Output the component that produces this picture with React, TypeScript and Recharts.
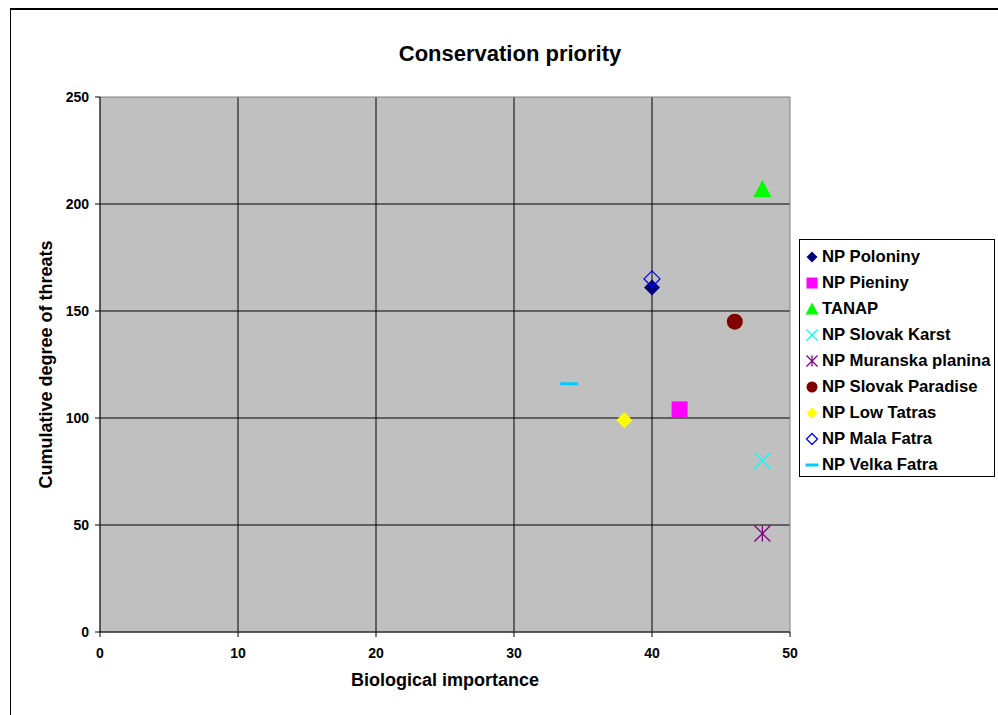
import React from 'react';
import {
  ScatterChart,
  Scatter,
  XAxis,
  YAxis,
  CartesianGrid,
  ReferenceArea,
} from 'recharts';

// parks
const parkNames = [
  'NP Poloniny',
  'NP Pieniny',
  'TANAP',
  'NP Slovak Karst',
  'NP Muranska planina',
  'NP Slovak Paradise',
  'NP Low Tatras',
  'NP Mala Fatra',
  'NP Velka Fatra',
];
const biologicalImportance = [40, 42, 48, 48, 48, 46, 38, 40, 34];
const threatDegree = [161, 104, 207, 80, 46, 145, 99, 165, 116];
const markerKinds = ['diamond', 'square', 'triangle', 'x', 'star', 'circle', 'diamond', 'openDiamond', 'dash'];
const markerColors = ['#000080', '#FF00FF', '#00FF00', '#00FFFF', '#800080', '#800000', '#FFFF00', '#0000FF', '#00CCFF'];

const xTicks = [0, 10, 20, 30, 40, 50];
const yTicks = [0, 50, 100, 150, 200, 250];

const FONT = '"Liberation Sans", Arial, Helvetica, sans-serif';

function Marker({ kind, color, cx, cy, s = 8 }: { kind: string; color: string; cx: number; cy: number; s?: number }) {
  switch (kind) {
    case 'diamond':
      return <polygon points={`${cx},${cy - s} ${cx + s},${cy} ${cx},${cy + s} ${cx - s},${cy}`} fill={color} />;
    case 'openDiamond':
      return (
        <polygon
          points={`${cx},${cy - s} ${cx + s},${cy} ${cx},${cy + s} ${cx - s},${cy}`}
          fill="none"
          stroke={color}
          strokeWidth={1.3}
        />
      );
    case 'square':
      return <rect x={cx - s} y={cy - s} width={2 * s} height={2 * s} fill={color} />;
    case 'triangle':
      return <polygon points={`${cx},${cy - s - 1} ${cx + s + 1},${cy + s} ${cx - s - 1},${cy + s}`} fill={color} />;
    case 'circle':
      return <circle cx={cx} cy={cy} r={s} fill={color} />;
    case 'x':
      return (
        <g stroke={color} strokeWidth={1.3}>
          <line x1={cx - s} y1={cy - s} x2={cx + s} y2={cy + s} />
          <line x1={cx - s} y1={cy + s} x2={cx + s} y2={cy - s} />
        </g>
      );
    case 'star':
      return (
        <g stroke={color} strokeWidth={1.3}>
          <line x1={cx - s} y1={cy - s} x2={cx + s} y2={cy + s} />
          <line x1={cx - s} y1={cy + s} x2={cx + s} y2={cy - s} />
          <line x1={cx} y1={cy - s} x2={cx} y2={cy + s} />
        </g>
      );
    case 'dash':
      return <line x1={cx - s - 1} y1={cy} x2={cx + s + 1} y2={cy} stroke={color} strokeWidth={3} />;
    default:
      return null;
  }
}

const YTitle = (props: any) => {
  const { x, y, height } = props.viewBox;
  const cx = x + 6;
  const cy = y + height / 2;
  return (
    <text
      x={cx}
      y={cy}
      transform={`rotate(-90, ${cx}, ${cy})`}
      textAnchor="middle"
      dominantBaseline="central"
      fontFamily={FONT}
      fontWeight="bold"
      fontSize={18}
      fill="#000"
    >
      Cumulative degree of threats
    </text>
  );
};

const XTitle = (props: any) => {
  const { x, y, width } = props.viewBox;
  return (
    <text
      x={x + width / 2}
      y={y + 48}
      textAnchor="middle"
      dominantBaseline="central"
      fontFamily={FONT}
      fontWeight="bold"
      fontSize={18}
      fill="#000"
    >
      Biological importance
    </text>
  );
};

function ParkLegend() {
  return (
    <div
      style={{
        position: 'absolute',
        left: 799,
        top: 239,
        width: 196,
        height: 238,
        border: '1px solid #000',
        background: '#fff',
        boxSizing: 'border-box',
        paddingTop: 4,
      }}
    >
      {parkNames.map((name, i) => (
        <div key={name} style={{ display: 'flex', alignItems: 'center', height: 26 }}>
          <svg width={22} height={16} style={{ flex: 'none' }}>
            <Marker kind={markerKinds[i]} color={markerColors[i]} cx={12} cy={8} s={5.5} />
          </svg>
          <span style={{ fontFamily: FONT, fontWeight: 'bold', fontSize: 16.7, color: '#000', whiteSpace: 'nowrap' }}>
            {name}
          </span>
        </div>
      ))}
    </div>
  );
}

export default function App() {
  return (
    <div style={{ position: 'fixed', inset: 0, overflow: 'hidden', background: '#fff' }}>
      <div
        style={{
          position: 'absolute',
          left: 10,
          top: 8,
          width: 1100,
          height: 800,
          borderTop: '2px solid #000',
          borderLeft: '1px solid #000',
        }}
      />
      <div
        style={{
          position: 'absolute',
          left: 0,
          width: 1020,
          top: 41,
          textAlign: 'center',
          fontFamily: FONT,
          fontWeight: 'bold',
          fontSize: 22,
          color: '#000',
        }}
      >
        Conservation priority
      </div>
      <div style={{ position: 'absolute', left: 0, top: 0 }}>
        <ScatterChart width={998} height={715} margin={{ top: 97, right: 208, bottom: 53, left: 40 }}>
          <CartesianGrid
            fill="#C0C0C0"
            stroke="#000"
            horizontalValues={[50, 100, 150, 200]}
            verticalValues={[10, 20, 30, 40]}
          />
          <ReferenceArea x1={0} x2={50} y1={0} y2={250} fill="none" stroke="#808080" strokeWidth={1} />
          <XAxis
            type="number"
            dataKey="x"
            domain={[0, 50]}
            ticks={xTicks}
            height={30}
            tickSize={5}
            tickMargin={11}
            stroke="#000"
            tick={{ fill: '#000', fontSize: 14, fontWeight: 'bold', fontFamily: FONT }}
            label={XTitle}
          />
          <YAxis
            type="number"
            dataKey="y"
            domain={[0, 250]}
            ticks={yTicks}
            width={60}
            tickSize={5}
            tickMargin={6}
            stroke="#000"
            tick={{ fill: '#000', fontSize: 14, fontWeight: 'bold', fontFamily: FONT }}
            label={YTitle}
          />
          {parkNames.map((name, i) => (
            <Scatter
              key={name}
              name={name}
              data={[{ x: biologicalImportance[i], y: threatDegree[i] }]}
              isAnimationActive={false}
              shape={(p: any) => <Marker kind={markerKinds[i]} color={markerColors[i]} cx={p.cx} cy={p.cy} />}
            />
          ))}
        </ScatterChart>
      </div>
      <ParkLegend />
    </div>
  );
}
